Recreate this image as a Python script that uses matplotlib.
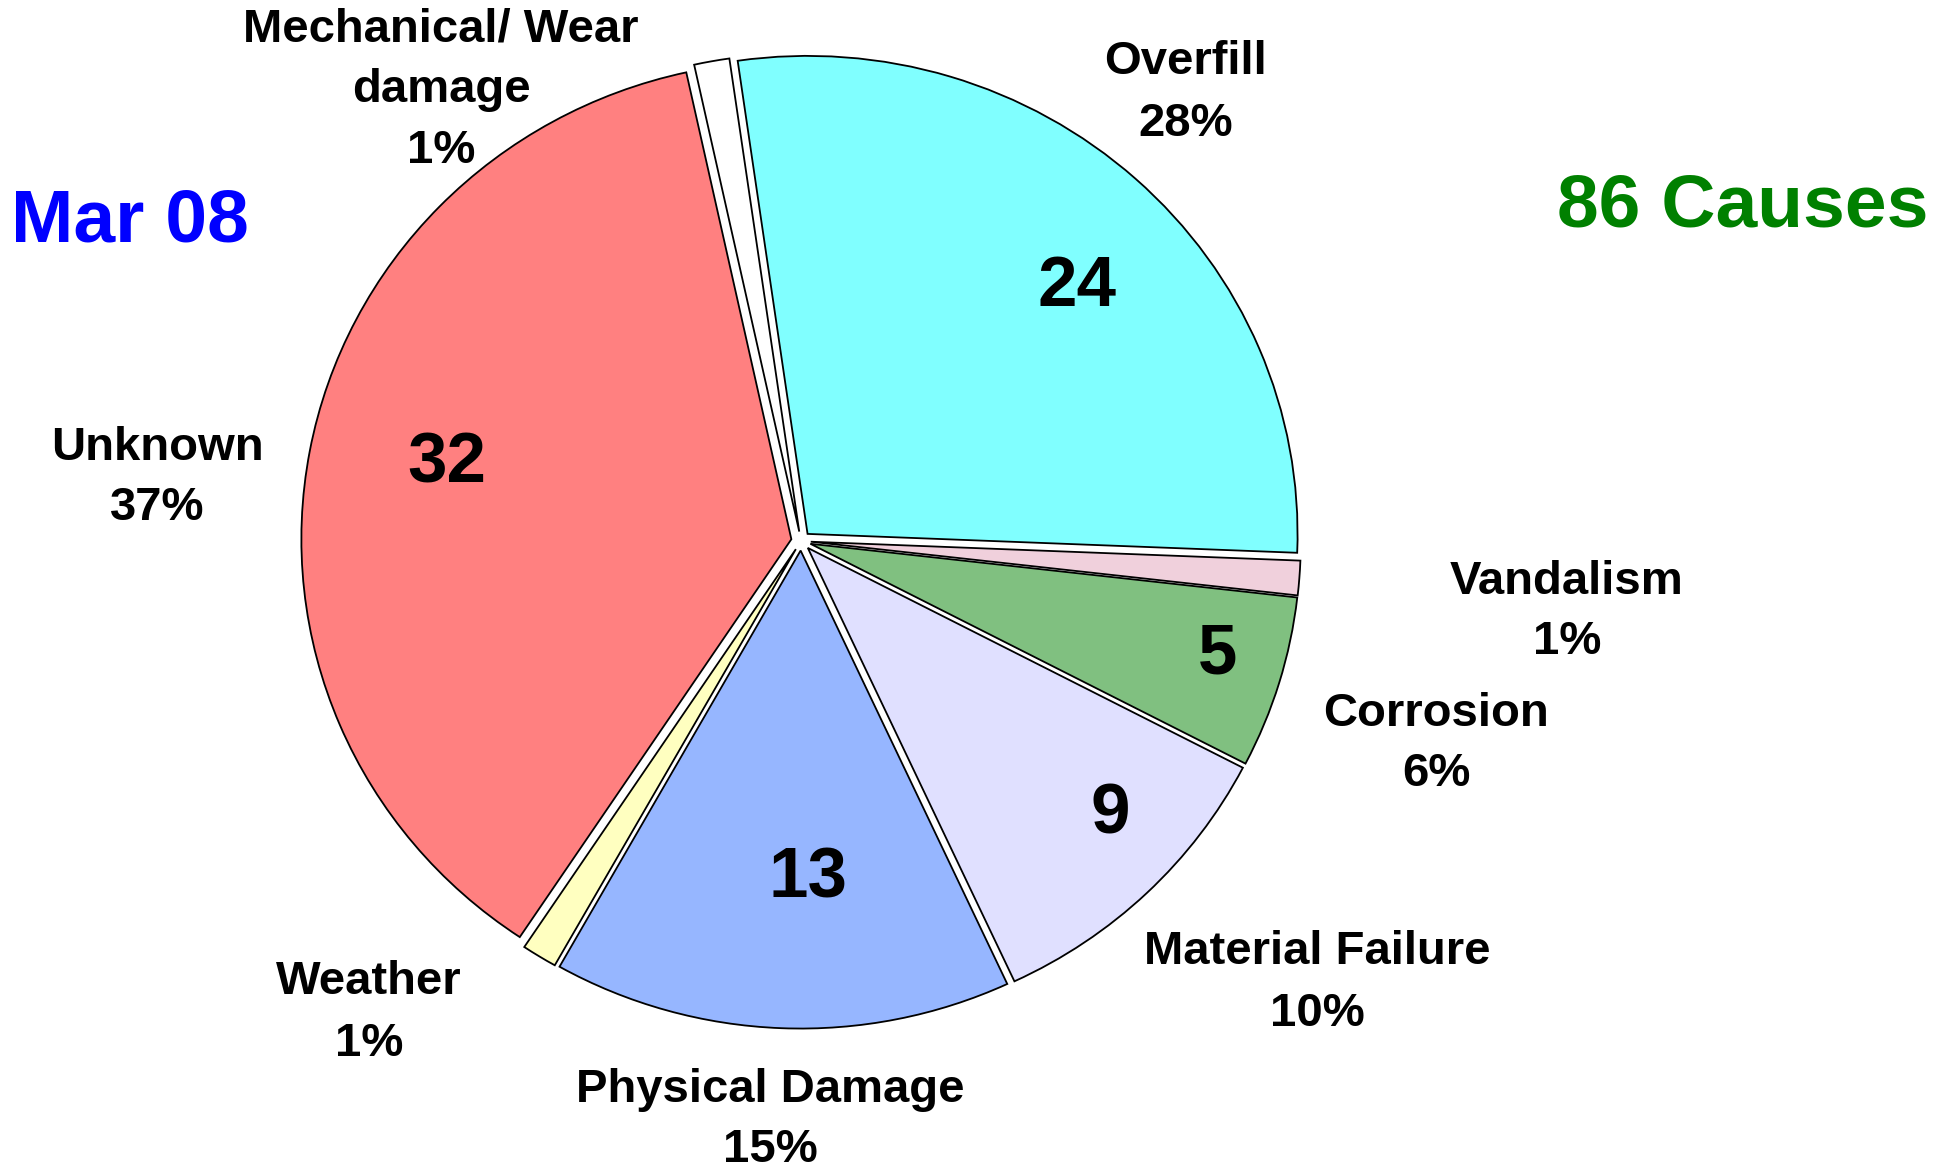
import matplotlib
matplotlib.use("Agg")
import matplotlib.pyplot as plt

# ---- data ----
categories = ["Overfill", "Vandalism", "Corrosion", "Material Failure",
              "Physical Damage", "Weather", "Unknown", "Mechanical/ Wear\ndamage"]
counts = [24, 1, 5, 9, 13, 1, 32, 1]
colors = ["#80FFFF", "#F0D0DC", "#80C080", "#E0E0FF",
          "#96B6FF", "#FFFFC0", "#FF8080", "#FFFFFF"]
title_left = "Mar 08"
title_right = "86 Causes"

# ---- layout (pixels, from top-left) ----
label_pos = [(1186, 93), (1567, 612), (1436, 744), (1317, 983),
             (770, 1120), (369, 1013), (157, 478), (441, 90)]
inner_pos = {0: (1077, 288), 2: (1218, 656), 3: (1110, 816),
             4: (808, 880), 6: (447, 464)}

W, H = 1948, 1173
plt.rcParams["font.family"] = ["Liberation Sans", "DejaVu Sans"]
fig = plt.figure(figsize=(W / 100, H / 100), dpi=100)

cx, cy = 801, 541
rx, ry = 490, 478
xl, yl = 1.2, 1.15
ax = fig.add_axes([(cx - xl * rx) / W, (H - cy - yl * ry) / H,
                   2 * xl * rx / W, 2 * yl * ry / H])
ax.pie(counts, colors=colors, startangle=98.2, counterclock=False,
       explode=[0.02] * len(counts),
       wedgeprops=dict(edgecolor="black", linewidth=1.3))
ax.set_aspect("auto")
ax.set_xlim(-xl, xl)
ax.set_ylim(-yl, yl)
ax.axis("off")

total = sum(counts)


def fpos(p):
    return p[0] / W, 1 - p[1] / H


for i, (cat, v) in enumerate(zip(categories, counts)):
    pct = round(100 * v / total)
    x, y = fpos(label_pos[i])
    fig.text(x, y, f"{cat}\n{pct}%", ha="center", va="center",
             fontsize=34, fontweight="bold", linespacing=1.5)
    if i in inner_pos:
        x, y = fpos(inner_pos[i])
        fig.text(x, y, str(v), ha="center", va="center",
                 fontsize=51, fontweight="bold")

x, y = fpos((130, 222))
fig.text(x, y, title_left, ha="center", va="center", fontsize=54,
         fontweight="bold", color="#0000FF")
x, y = fpos((1743, 207))
fig.text(x, y, title_right, ha="center", va="center", fontsize=54,
         fontweight="bold", color="#008000")

fig.savefig("out.png", dpi=100, facecolor="white")
